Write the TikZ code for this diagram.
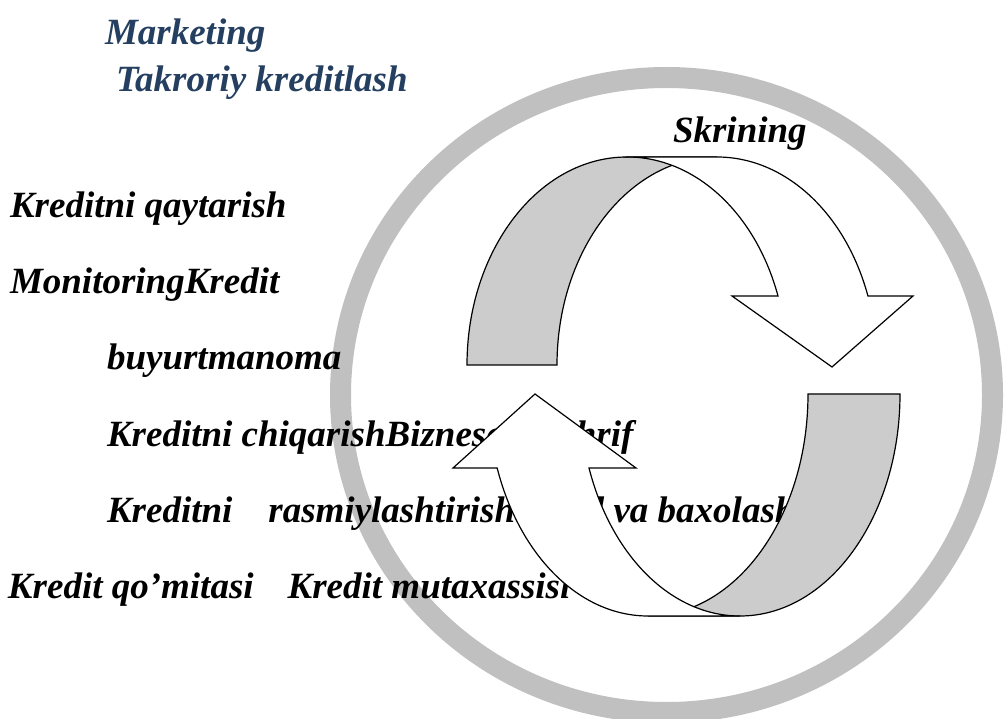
\documentclass[tikz,border=0pt]{standalone}
\usepackage{fontspec}
\setmainfont{Liberation Serif}
\usetikzlibrary{calc}

\definecolor{ringgray}{HTML}{C0C0C0}
\definecolor{bandgray}{HTML}{CCCCCC}
\definecolor{headblue}{HTML}{243F60}

\begin{document}
\begin{tikzpicture}[
  x=1pt, y=1pt,
  line join=miter,
  every node/.style={inner sep=0pt, outer sep=0pt},
  txt/.style={anchor=base west, font=\fontsize{37}{44}\selectfont\bfseries\itshape},
  bluetxt/.style={txt, text=headblue},
  back band/.style={fill=bandgray, draw=black, line width=1.2pt},
  front band/.style={fill=white, draw=black, line width=1.2pt}
]
  \useasboundingbox (0,0) rectangle (1006,718);
  \clip (0,0) rectangle (1006,718);

  % big ring, behind everything
  \coordinate (ringc) at (666.5,323);
  \draw[ringgray, line width=21pt] (ringc) ellipse[x radius=326pt, y radius=317.5pt];

  % texts
  \node[bluetxt] (mark) at (105,673) {Marketing};
  \node[bluetxt] (takr) at (116,626) {Takroriy kreditlash};
  \node[txt] (skr)  at (673,575) {Skrining};
  \node[txt] (qayt) at (10,500)  {Kreditni qaytarish};
  \node[txt] (mon)  at (10,424)  {MonitoringKredit};
  \node[txt] (buy)  at (107,348) {buyurtmanoma};
  \node[txt] (chiq) at (107,271) {Kreditni chiqarishBiznesga tashrif};
  \node[txt] (rasm) at (107,196) {Kreditni\hspace{36pt}rasmiylashtirishTahlil va baxolash};
  \node[txt] (qom)  at (8,120)   {Kredit qo’mitasi\hspace{34pt}Kredit mutaxassisi};

  % upper arrow: arcs with rx=160, ry=208 round (627,353) and (717,353)
  \coordinate (ua) at (627,353);
  \coordinate (ub) at (717,353);
  \draw[back band] ($(ua)+(-160,0)$) arc[start angle=180, end angle=90, x radius=160pt, y radius=208pt]
    -- ($(ub)+(0,208)$) arc[start angle=90, end angle=180, x radius=160pt, y radius=208pt] -- cycle;
  \draw[front band] ($(ua)+(0,208)$) -- ($(ub)+(0,208)$)
    arc[start angle=90, end angle=19.37, x radius=160pt, y radius=208pt]
    -- (913,422) -- (832,351) -- (732,422) -- (778,422)
    arc[start angle=19.37, end angle=90, x radius=160pt, y radius=208pt] -- cycle;

  % lower arrow: arcs with rx=160, ry=222 round (740,324) and (648,324)
  \coordinate (la) at (740,324);
  \coordinate (lb) at (648,324);
  \draw[back band] ($(la)+(160,0)$) arc[start angle=0, end angle=-90, x radius=160pt, y radius=222pt]
    -- ($(lb)+(0,-222)$) arc[start angle=-90, end angle=0, x radius=160pt, y radius=222pt] -- cycle;
  \draw[front band] ($(la)+(0,-222)$) -- ($(lb)+(0,-222)$)
    arc[start angle=270, end angle=199.47, x radius=160pt, y radius=222pt]
    -- (453,250) -- (535,324) -- (636,250) -- (589,250)
    arc[start angle=199.47, end angle=270, x radius=160pt, y radius=222pt] -- cycle;
\end{tikzpicture}
\end{document}
